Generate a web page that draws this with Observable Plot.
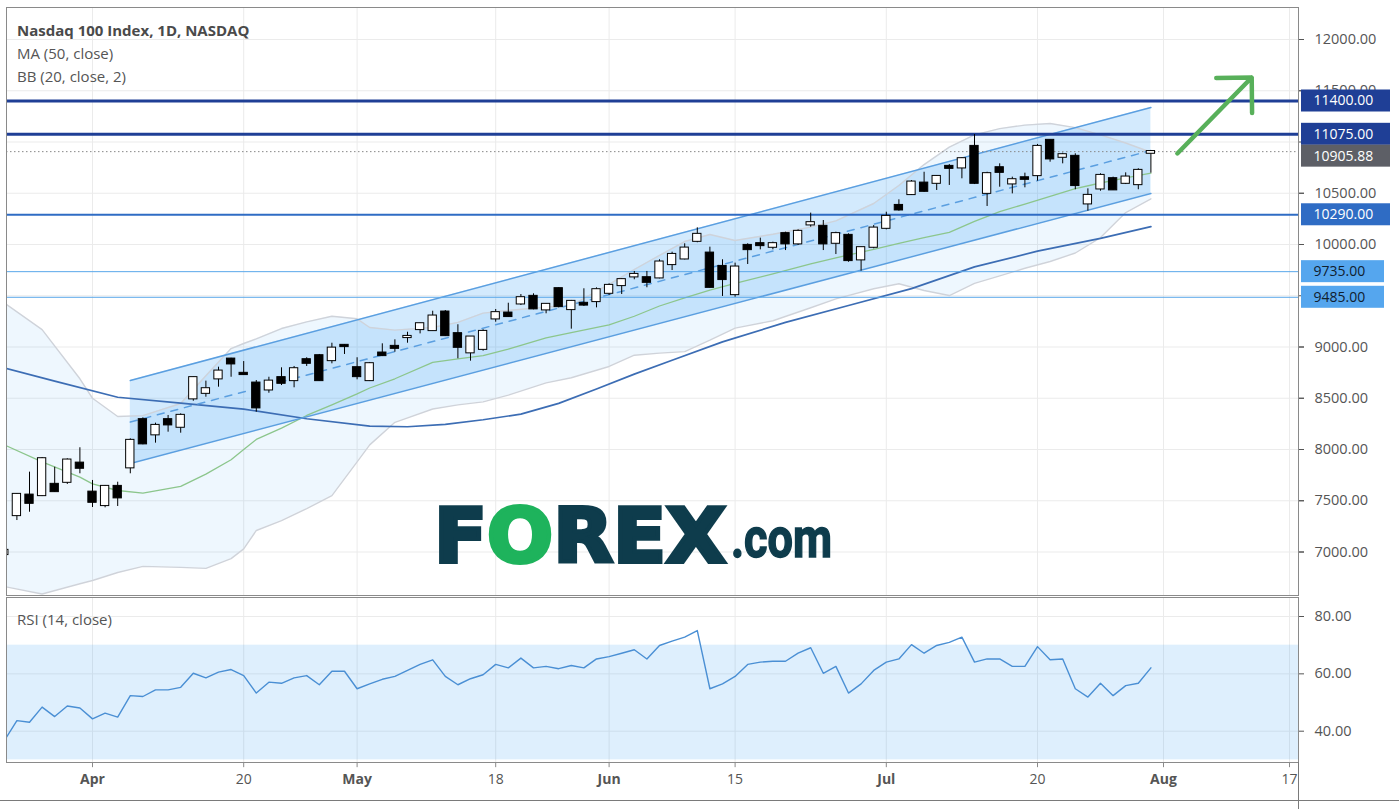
<!DOCTYPE html>
<html><head><meta charset="utf-8">
<script src="https://cdn.jsdelivr.net/npm/d3@7"></script>
<script src="https://cdn.jsdelivr.net/npm/@observablehq/plot@0.6"></script>
<style>
body{margin:0;background:#fff;}
#wrap{position:relative;width:1399px;height:809px;overflow:hidden;background:#fff;font-family:"Open Sans",sans-serif;}
#main,#rsi{position:absolute;left:0;}
#main{top:0;} #rsi{top:597px;}
#ov{position:absolute;left:0;top:0;pointer-events:none;}
.hl{position:absolute;background:#7a7a7a;}
</style></head><body><div id="wrap"><div id="main"></div><div id="rsi"></div>
<div class="hl" style="left:0;top:800px;width:1399px;height:1px;"></div>
<div class="hl" style="left:1298px;top:762px;width:1px;height:47px;"></div>
<svg id="ov" width="1399" height="809" font-family="'Open Sans',sans-serif">
<text x="17" y="36" font-weight="700" font-size="15" fill="#4a4a4a">Nasdaq 100 Index, 1D, NASDAQ</text>
<text x="17" y="59" font-size="15" fill="#555">MA (50, close)</text>
<text x="17" y="82" font-size="15" fill="#555">BB (20, close, 2)</text>
<text x="17" y="625" font-size="15" fill="#555">RSI (14, close)</text>
<text x="434" y="562" font-family="'DejaVu Sans',sans-serif" font-weight="bold" font-size="75" textLength="292" lengthAdjust="spacingAndGlyphs" fill="#0e3c4c" stroke="#0e3c4c" stroke-width="4" stroke-linejoin="miter"><tspan>F</tspan><tspan fill="#1eb35c" stroke="#1eb35c">O</tspan><tspan>REX</tspan></text>
<text x="731" y="557" font-family="Roboto,sans-serif" font-weight="bold" font-size="55" textLength="101" lengthAdjust="spacingAndGlyphs" fill="#0e3c4c" stroke="#0e3c4c" stroke-width="1.5">.com</text>
</svg>
</div>
<script>
// ---------------- data ----------------
const dates = ["2020-03-23","2020-03-24","2020-03-25","2020-03-26","2020-03-27","2020-03-30","2020-03-31",
"2020-04-01","2020-04-02","2020-04-03","2020-04-06","2020-04-07","2020-04-08","2020-04-09","2020-04-13","2020-04-14","2020-04-15","2020-04-16","2020-04-17","2020-04-20","2020-04-21","2020-04-22","2020-04-23","2020-04-24","2020-04-27","2020-04-28","2020-04-29","2020-04-30",
"2020-05-01","2020-05-04","2020-05-05","2020-05-06","2020-05-07","2020-05-08","2020-05-11","2020-05-12","2020-05-13","2020-05-14","2020-05-15","2020-05-18","2020-05-19","2020-05-20","2020-05-21","2020-05-22","2020-05-26","2020-05-27","2020-05-28","2020-05-29",
"2020-06-01","2020-06-02","2020-06-03","2020-06-04","2020-06-05","2020-06-08","2020-06-09","2020-06-10","2020-06-11","2020-06-12","2020-06-15","2020-06-16","2020-06-17","2020-06-18","2020-06-19","2020-06-22","2020-06-23","2020-06-24","2020-06-25","2020-06-26","2020-06-29","2020-06-30",
"2020-07-01","2020-07-02","2020-07-06","2020-07-07","2020-07-08","2020-07-09","2020-07-10","2020-07-13","2020-07-14","2020-07-15","2020-07-16","2020-07-17","2020-07-20","2020-07-21","2020-07-22","2020-07-23","2020-07-24","2020-07-27","2020-07-28","2020-07-29","2020-07-30","2020-07-31"];
const open  = [6976,7356,7554,7551,7659,7681,7866, 7583,7454,7639,7822,8290,8144,8290,8218,8495,8549,8690,8881,8742,8647,8582,8700,8673,8875,8914,8868,9015, 8797,8673,8940,9005,9093,9171,9161,9340,9129,8944,8978,9275,9330,9421,9493,9363,9568,9366,9425,9444, 9525,9600,9685,9675,9675,9805,9860,10032,9915,9785,9512,9990,10007,9974,10105,10007,10192,10176,10013,10088,9851,9974, 10159,10380,10488,10598,10598,10761,10748,10956,10500,10748,10592,10650,10673,11015,10852,10859,10397,10543,10641,10598,10585,10891];
const high  = [7030,7570,7779,7922,7827,7909,8017, 7698,7649,7681,8104,8309,8257,8332,8348,8706,8667,8803,8890,8858,8673,8705,8797,8810,8895,8927,9037,9024, 8895,8849,9031,9070,9144,9232,9349,9356,9217,9102,9168,9366,9427,9512,9519,9421,9577,9454,9568,9577, 9616,9665,9737,9737,9851,9925,10007,10163,9974,9851,9818,10007,10062,10023,10120,10143,10306,10234,10120,10104,9974,10185, 10315,10436,10624,10705,10673,10780,10846,11073,10705,10787,10657,10696,10976,11021,10891,10885,10543,10690,10657,10699,10739,10917];
const low   = [6960,7307,7388,7541,7583,7659,7763, 7434,7431,7444,7763,8046,8062,8169,8159,8471,8510,8608,8705,8725,8364,8549,8624,8602,8810,8667,8836,8927, 8680,8663,8907,8949,9037,9128,9155,9102,8885,8862,8959,9242,9290,9405,9363,9324,9382,9174,9395,9382, 9502,9512,9656,9578,9665,9746,9850,10017,9575,9493,9486,9805,9948,9948,9941,9990,10169,9941,9902,9827,9740,9958, 10143,10325,10478,10510,10527,10576,10641,10585,10371,10559,10494,10553,10618,10803,10787,10534,10325,10520,10527,10585,10534,10696];
const close = [7015,7561,7476,7909,7590,7896,7818, 7486,7639,7529,8088,8056,8234,8241,8332,8700,8592,8764,8836,8732,8407,8666,8647,8787,8842,8673,8988,9005, 8712,8836,8917,8988,9102,9226,9301,9112,8998,9096,9151,9334,9298,9480,9373,9415,9395,9444,9410,9558, 9600,9656,9707,9632,9828,9902,9964,10098,9583,9659,9779,9951,9990,10007,10007,10127,10212,10007,10105,9844,9968,10159, 10273,10338,10608,10520,10663,10744,10836,10598,10690,10705,10631,10637,10956,10836,10875,10576,10478,10673,10534,10657,10722,10905.88];
const rsi = [36.7,43.7,43.1,48.4,45.1,48.8,48.1, 44.3,46.3,44.9,52.4,52.1,54.4,54.4,55.3,60.2,58.6,60.6,61.5,59.4,53.3,57.1,56.7,58.6,59.4,56.2,60.9,60.9, 54.8,56.5,58.1,59.1,61.2,63.3,64.9,59.1,56.2,58.3,59.7,63.3,62.1,65.5,62.1,62.6,61.8,62.9,62.1,65.2, 66.0,67.2,68.4,65.2,69.9,71.4,72.8,75.1,54.8,56.5,59.1,63.3,64.1,64.4,64.4,67.2,69.1,60.2,62.6,53.3,56.5,61.2, 64.1,65.2,70.2,67.2,69.9,71.0,72.8,64.1,65.2,65.2,62.6,62.6,69.5,64.9,65.2,54.8,51.9,56.7,52.4,55.9,56.7,62.1];

const ma50Dates = ["2020-03-23","2020-03-27","2020-04-03","2020-04-13","2020-04-20","2020-04-27","2020-05-04","2020-05-07","2020-05-12","2020-05-15","2020-05-20","2020-05-26","2020-05-29","2020-06-03","2020-06-08","2020-06-12","2020-06-19","2020-06-26","2020-07-06","2020-07-13","2020-07-20","2020-07-27","2020-07-31"];
const ma50 = [8795,8667,8510,8452,8394,8300,8228,8222,8245,8290,8345,8450,8590,8735,8870,9050,9240,9405,9570,9782,9935,10060,10175];

const bbDates = ["2020-03-23","2020-03-26","2020-03-31","2020-04-01","2020-04-03","2020-04-07","2020-04-13","2020-04-15","2020-04-17","2020-04-20","2020-04-21","2020-04-23","2020-04-27","2020-04-29","2020-05-01","2020-05-04","2020-05-06","2020-05-11","2020-05-13","2020-05-15","2020-05-19","2020-05-22","2020-05-27","2020-06-01","2020-06-03","2020-06-05","2020-06-09","2020-06-11","2020-06-15","2020-06-18","2020-06-23","2020-06-25","2020-06-30","2020-07-02","2020-07-07","2020-07-09","2020-07-13","2020-07-15","2020-07-17","2020-07-21","2020-07-23","2020-07-27","2020-07-29","2020-07-31"];
const bbUpper = [9430,9170,8690,8500,8322,8330,8449,8720,8985,9034,9080,9180,9245,9300,9275,9190,9165,9190,9240,9330,9356,9390,9405,9612,9756,9893,10029,10098,10039,10100,10170,10230,10400,10576,10780,10950,11070,11130,11165,11180,11140,11070,10990,10900];
const bbBasis = [8045,7880,7730,7665,7600,7575,7640,7760,7900,8000,8098,8208,8332,8436,8543,8600,8690,8850,8885,8915,8980,9090,9140,9215,9300,9400,9480,9555,9620,9714,9810,9870,9953,10010,10068,10118,10226,10320,10395,10470,10545,10600,10650,10696];
const bbLower = [6663,6590,6690,6722,6800,6860,6850,6840,6935,7030,7210,7307,7424,7550,7880,8045,8265,8395,8435,8465,8530,8650,8700,8810,8920,8940,8955,9066,9184,9256,9383,9469,9568,9617,9551,9502,9620,9694,9768,9834,9917,10068,10312,10446];

const channelDates = ["2020-04-06","2020-07-31"];
const channelUpper = [8673,11337];
const channelMid   = [8268,10917];
const channelLower = [7863,10498];

const levels = [11400,11075,10290,9735,9485];
const lastPrice = 10905.88;
const priceTicks = [7000,7500,8000,8500,9000,9500,10000,10500,11000,11500,12000];
const priceTickLabels = [7000,7500,8000,8500,9000,10000,10500,11500,12000]; // 9500 and 11000 sit under level labels
const rsiTicks = [40,60,80];
const rsiBand = [30,70];
const xTickDates = ["2020-04-01","2020-04-20","2020-05-01","2020-05-18","2020-06-01","2020-06-15","2020-07-01","2020-07-20","2020-08-03","2020-08-17"];
const xTickLabels = ["Apr","20","May","18","Jun","15","Jul","20","Aug","17"];
const xTickIsMonth = [true,false,true,false,true,false,true,false,true,false];
const arrowNote = [{from:"2020-07-31", fromOffset:2.1, v1:10888, toOffset:8, v2:11629}];

// ---------------- styles / layout ----------------
const levelStyle = [
  {line:"#1f3f96", w:3, box:"#1f3f96", text:"#ffffff", bw:89, shift:0},
  {line:"#1f3f96", w:3, box:"#1f3f96", text:"#ffffff", bw:89, shift:0},
  {line:"#2f6cc4", w:2, box:"#2f6cc4", text:"#ffffff", bw:89, shift:0},
  {line:"#5aa8ea", w:1, box:"#55a6ee", text:"#10202e", bw:83, shift:0},
  {line:"#5aa8ea", w:1, box:"#55a6ee", text:"#10202e", bw:83, shift:0}
];
const lastStyle = {box:"#5d5f66", text:"#ffffff", bw:89, shift:-4.5};

const W = 1399, ML = 6, MR = 101;
const BAR_PX = 12.6, ORIGIN_PX = 92;
const X0 = (ML - ORIGIN_PX) / BAR_PX, X1 = (W - MR - ORIGIN_PX) / BAR_PX;
const PX_PER_UNIT = 0.1025;
const YTOP = 12000 + (39 - 7) / PX_PER_UNIT, YBOT = 12000 - (595 - 39) / PX_PER_UNIT;

function tradingIndex(d) {
  const k = dates.indexOf(d);
  if (k >= 0) return k - 7;
  let n = dates.length - 8;
  const t = new Date(dates[dates.length - 1] + "T00:00:00Z");
  const end = new Date(d + "T00:00:00Z");
  while (t < end) { t.setUTCDate(t.getUTCDate() + 1); const wd = t.getUTCDay(); if (wd !== 0 && wd !== 6) n++; }
  return n;
}

const candles = dates.map((d, k) => ({i: tradingIndex(d), o: open[k], h: high[k], l: low[k], c: close[k]}));
const bb = bbDates.map((d, k) => ({i: tradingIndex(d), up: bbUpper[k], mid: bbBasis[k], lo: bbLower[k]}));
const ma = ma50Dates.map((d, k) => ({i: tradingIndex(d), v: ma50[k]}));
const ch = channelDates.map((d, k) => ({i: tradingIndex(d), up: channelUpper[k], mid: channelMid[k], lo: channelLower[k]}));
const xTicks = xTickDates.map((d, k) => ({i: tradingIndex(d), label: xTickLabels[k], month: xTickIsMonth[k]}));
const xTickIdx = xTicks.map(d => d.i);
const rsiData = dates.map((d, k) => ({i: tradingIndex(d), v: rsi[k]}));

const pxToI = p => p / BAR_PX;
const halfBox = 11 / PX_PER_UNIT;
const boxX1 = X1 + pxToI(3);
const boxes = levels.map((v, k) => ({v, label: v.toFixed(2), ...levelStyle[k]}))
  .concat([{v: lastPrice, label: lastPrice.toFixed(2), ...lastStyle}])
  .map(d => ({...d, yc: d.v + d.shift / PX_PER_UNIT}));

const up = candles.filter(d => d.c >= d.o), dn = candles.filter(d => d.c < d.o);
const eps = 6;
const bodyOpts = {x1: d => d.i - 0.33, x2: d => d.i + 0.33,
  y1: d => Math.min(d.o, d.c) - eps, y2: d => Math.max(d.o, d.c) + eps, stroke: "#000", strokeWidth: 1, clip: true};

const arrowData = arrowNote.map(a => ({x1: tradingIndex(a.from) + a.fromOffset, y1: a.v1, x2: tradingIndex(a.from) + a.toOffset, y2: a.v2}));

const main = Plot.plot({
  width: W, height: 597, marginLeft: ML, marginRight: MR, marginTop: 7, marginBottom: 2,
  style: {background: "transparent", fontFamily: "'Open Sans',sans-serif", color: "#555", overflow: "visible"},
  x: {domain: [X0, X1], axis: null},
  y: {domain: [YBOT, YTOP], axis: null},
  marks: [
    Plot.gridY(priceTicks, {stroke: "#ebebeb", strokeOpacity: 1}),
    Plot.gridX(xTickIdx, {stroke: "#ebebeb", strokeOpacity: 1}),
    Plot.areaY(bb, {x: "i", y1: "lo", y2: "up", fill: "#2196f3", fillOpacity: 0.075, clip: true}),
    Plot.areaY(ch, {x: "i", y1: "lo", y2: "up", fill: "#2196f3", fillOpacity: 0.2}),
    Plot.line(bb, {x: "i", y: "up", stroke: "#cfd3da", strokeWidth: 1.4, clip: true}),
    Plot.line(bb, {x: "i", y: "lo", stroke: "#cfd3da", strokeWidth: 1.4, clip: true}),
    Plot.line(bb, {x: "i", y: "mid", stroke: "#8cc68c", strokeWidth: 1.3, clip: true}),
    Plot.line(ma, {x: "i", y: "v", stroke: "#3c6db4", strokeWidth: 1.7, clip: true}),
    Plot.line(ch, {x: "i", y: "up", stroke: "#5b9fe0", strokeWidth: 1.5}),
    Plot.line(ch, {x: "i", y: "lo", stroke: "#5b9fe0", strokeWidth: 1.5}),
    Plot.line(ch, {x: "i", y: "mid", stroke: "#5b9fe0", strokeWidth: 1.5, strokeDasharray: "7,7"}),
    ...levels.map((v, k) => Plot.ruleY([v], {stroke: levelStyle[k].line, strokeWidth: levelStyle[k].w})),
    Plot.ruleY([lastPrice], {stroke: "#888", strokeWidth: 1, strokeDasharray: "1.5,2.5"}),
    Plot.ruleX(candles, {x: "i", y1: "l", y2: "h", stroke: "#000", strokeWidth: 1, clip: true}),
    Plot.rect(up, {...bodyOpts, fill: "#fff"}),
    Plot.rect(dn, {...bodyOpts, fill: "#000"}),
    Plot.arrow(arrowData, {x1: "x1", y1: "y1", x2: "x2", y2: "y2", stroke: "#58b05a", strokeWidth: 4.5, headAngle: 90, headLength: 14}),
    Plot.frame({stroke: "#8a8a8a"}),
    Plot.axisY(priceTicks, {anchor: "right", tickSize: 5, tickFormat: () => "", label: null}),
    Plot.axisY(priceTickLabels, {anchor: "right", tickSize: 5, tickPadding: 11, fontSize: 14.5, tickFormat: d => d.toFixed(2), label: null}),
    Plot.rect(boxes, {x1: boxX1, x2: d => boxX1 + pxToI(d.bw), y1: d => d.yc - halfBox, y2: d => d.yc + halfBox, fill: d => d.box}),
    Plot.text(boxes, {x: boxX1 + pxToI(12), y: "yc", text: "label", textAnchor: "start", fontSize: 14, fill: d => d.text})
  ]
});
document.getElementById("main").appendChild(main);

const RSI_TOP = 86.63, RSI_BOT = 29.08;
const rsiPlot = Plot.plot({
  width: W, height: 212, marginLeft: ML, marginRight: MR, marginTop: 0, marginBottom: 47,
  style: {background: "transparent", fontFamily: "'Open Sans',sans-serif", color: "#555", overflow: "visible"},
  x: {domain: [X0, X1], axis: null},
  y: {domain: [RSI_BOT, RSI_TOP], axis: null},
  marks: [
    Plot.gridY(rsiTicks, {stroke: "#ebebeb", strokeOpacity: 1}),
    Plot.gridX(xTickIdx, {stroke: "#ebebeb", strokeOpacity: 1}),
    Plot.rect([rsiBand], {y1: d => d[0], y2: d => d[1], fill: "#2196f3", fillOpacity: 0.15}),
    Plot.line(rsiData, {x: "i", y: "v", stroke: "#4a8fd4", strokeWidth: 1.4, clip: true}),
    Plot.frame({stroke: "#8a8a8a"}),
    Plot.axisY(rsiTicks, {anchor: "right", tickSize: 5, tickPadding: 11, fontSize: 14.5, tickFormat: d => d.toFixed(2), label: null}),
    Plot.ruleX(xTickIdx, {x: d => d, y1: RSI_BOT - 1.8, y2: RSI_BOT, stroke: "#8a8a8a"}),
    Plot.text(xTicks.filter(d => d.month), {x: "i", text: "label", frameAnchor: "bottom", dy: 21, fontSize: 14, fontWeight: "bold", fill: "#555"}),
    Plot.text(xTicks.filter(d => !d.month), {x: "i", text: "label", frameAnchor: "bottom", dy: 21, fontSize: 14, fill: "#555"})
  ]
});
document.getElementById("rsi").appendChild(rsiPlot);
</script>
</body></html>
